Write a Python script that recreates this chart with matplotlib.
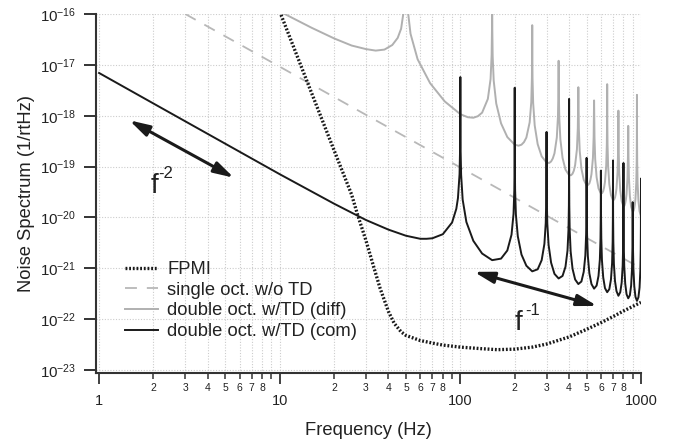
import numpy as np
import matplotlib
matplotlib.use('Agg')
import matplotlib.pyplot as plt
from matplotlib.ticker import FixedLocator, FixedFormatter, NullLocator

# values, log10 of the noise spectrum (1/rtHz)
fpmi_freq = [10, 15, 20, 25, 27, 30, 33, 36, 40, 43, 47, 50, 60, 70, 80, 100,
             130, 160, 200, 250, 300, 400, 500, 600, 700, 800, 900, 1000]
fpmi_log = [-15.95, -17.55, -18.68, -19.55, -19.95, -20.45, -20.95, -21.40, -21.85,
            -22.08, -22.25, -22.32, -22.42, -22.47, -22.51, -22.55, -22.58, -22.60,
            -22.59, -22.55, -22.49, -22.35, -22.20, -22.07, -21.95, -21.84, -21.75, -21.67]

single_freq = [3, 1000]
single_log = [-16.0, -21.0]

diff_freq = [10, 15, 20, 25, 30, 34, 38, 42, 45, 47, 49, 50,
             50.3, 51, 53, 58, 68, 82, 100, 110, 118, 125, 132, 142, 147, 149, 149.7, 150,
             150.3, 151, 153, 158, 168, 182, 200, 210, 218, 225, 232, 242, 247, 249, 249.7, 250,
             250.3, 251, 253, 258, 268, 282, 300, 310, 318, 325, 332, 342, 347, 349, 349.7, 350,
             350.3, 351, 353, 358, 368, 382, 400, 410, 418, 425, 432, 442, 447, 449, 450,
             451, 453, 458, 468, 482, 500, 510, 518, 525, 532, 542, 547, 549, 550,
             551, 553, 558, 568, 582, 600, 610, 618, 625, 632, 642, 647, 649, 649.7, 650,
             650.3, 651, 653, 658, 668, 682, 700, 710, 718, 725, 732, 742, 747, 749, 750,
             751, 753, 758, 768, 782, 800, 810, 818, 825, 832, 842, 847, 849, 850,
             851, 853, 858, 868, 882, 900, 910, 918, 925, 932, 942, 947, 949, 949.7, 950,
             950.3, 951, 953, 958, 968, 982, 1000]
diff_log = [-15.95, -16.27, -16.48, -16.62, -16.69, -16.72, -16.70, -16.61, -16.47, -16.29, -15.85, -15.3,
            -15.35, -15.88, -16.39, -16.89, -17.36, -17.72, -17.97, -18.03, -18.04, -18.01, -17.94, -17.67, -17.28, -16.81, -16.30, -15.3,
            -16.30, -16.83, -17.31, -17.76, -18.15, -18.42, -18.57, -18.59, -18.57, -18.52, -18.43, -18.13, -17.73, -17.26, -16.74, -16.22,
            -16.74, -17.27, -17.75, -18.19, -18.56, -18.80, -18.92, -18.93, -18.90, -18.84, -18.74, -18.43, -18.02, -17.55, -17.03, -16.92,
            -17.03, -17.56, -18.04, -18.47, -18.83, -19.06, -19.17, -19.17, -19.14, -19.08, -18.97, -18.66, -18.24, -17.77, -17.44,
            -17.78, -18.26, -18.69, -19.04, -19.26, -19.37, -19.36, -19.33, -19.26, -19.15, -18.83, -18.42, -17.95, -17.70,
            -17.95, -18.43, -18.86, -19.21, -19.43, -19.53, -19.52, -19.48, -19.41, -19.30, -18.98, -18.57, -18.09, -17.57, -17.38,
            -17.57, -18.09, -18.57, -19.00, -19.35, -19.56, -19.66, -19.65, -19.61, -19.54, -19.43, -19.11, -18.69, -18.22, -17.90,
            -18.22, -18.70, -19.13, -19.47, -19.68, -19.78, -19.77, -19.72, -19.65, -19.54, -19.22, -18.80, -18.33, -18.20,
            -18.33, -18.81, -19.23, -19.58, -19.79, -19.88, -19.87, -19.82, -19.75, -19.64, -19.31, -18.90, -18.42, -17.90, -17.59,
            -17.90, -18.42, -18.90, -19.33, -19.67, -19.88, -19.97]

com_freq = [1, 2, 5, 10, 20, 30, 40, 50, 60, 65, 70, 80, 90, 95, 97, 99, 99.7, 100,
            100.3, 101, 103, 108, 118, 132, 150, 168, 182, 192, 197, 199, 199.7, 200,
            200.3, 201, 203, 208, 218, 232, 250, 268, 282, 292, 297, 299, 299.7, 300,
            300.3, 301, 303, 308, 318, 332, 350, 368, 382, 392, 397, 399, 399.7, 400,
            400.3, 401, 403, 408, 418, 432, 450, 468, 482, 492, 497, 499, 499.7, 500,
            500.3, 501, 503, 508, 518, 532, 550, 568, 582, 592, 597, 599, 599.7, 600,
            600.3, 601, 603, 608, 618, 632, 650, 668, 682, 692, 697, 699, 699.7, 700,
            700.3, 701, 703, 708, 718, 732, 750, 768, 782, 792, 797, 799, 799.7, 800,
            800.3, 801, 803, 808, 818, 832, 850, 868, 882, 892, 897, 899, 900,
            901, 903, 908, 918, 932, 950, 968, 982, 992, 997, 999, 999.7, 1000]
com_log = [-17.16, -17.76, -18.55, -19.15, -19.73, -20.05, -20.24, -20.36, -20.42, -20.42, -20.41, -20.33, -20.10, -19.83, -19.62, -19.15, -18.63, -17.24,
           -18.64, -19.16, -19.65, -20.09, -20.46, -20.71, -20.84, -20.81, -20.65, -20.34, -19.93, -19.46, -18.94, -17.45,
           -18.94, -19.46, -19.94, -20.37, -20.73, -20.95, -21.06, -21.02, -20.84, -20.52, -20.11, -19.63, -19.11, -18.32,
           -19.11, -19.64, -20.12, -20.54, -20.89, -21.11, -21.20, -21.15, -20.97, -20.65, -20.23, -19.76, -19.24, -17.67,
           -19.24, -19.76, -20.24, -20.67, -21.01, -21.22, -21.31, -21.26, -21.07, -20.75, -20.33, -19.86, -19.33, -18.83,
           -19.33, -19.86, -20.34, -20.76, -21.10, -21.31, -21.40, -21.34, -21.15, -20.83, -20.41, -19.94, -19.41, -19.08,
           -19.41, -19.94, -20.41, -20.84, -21.18, -21.39, -21.47, -21.41, -21.22, -20.90, -20.48, -20.00, -19.48, -18.88,
           -19.48, -20.00, -20.48, -20.91, -21.25, -21.45, -21.54, -21.47, -21.28, -20.95, -20.54, -20.06, -19.54, -18.93,
           -19.54, -20.06, -20.54, -20.96, -21.30, -21.51, -21.59, -21.53, -21.34, -21.01, -20.59, -20.11, -19.70,
           -20.11, -20.59, -21.01, -21.35, -21.56, -21.64, -21.57, -21.38, -21.05, -20.63, -20.16, -19.63, -19.24]

labels = ['FPMI', 'single oct. w/o TD', 'double oct. w/TD (diff)', 'double oct. w/TD (com)']

x_major = [1, 10, 100, 1000]
x_major_labels = ['1', '10', '100', '1000']
minor_digits = [2, 3, 4, 5, 6, 7, 8, 9]
minor_labels = ['2', '3', '4', '5', '6', '7', '8', '']
y_exponents = [-23, -22, -21, -20, -19, -18, -17, -16]


plt.rcParams['font.family'] = ['Liberation Sans', 'DejaVu Sans']
plt.rcParams['mathtext.fontset'] = 'custom'
plt.rcParams['mathtext.rm'] = 'Liberation Sans'
plt.rcParams['mathtext.it'] = 'Liberation Sans:italic'
plt.rcParams['axes.unicode_minus'] = False

txt = '#222222'
fig = plt.figure(figsize=(6.84, 4.44), dpi=100)
ax = fig.add_axes([0.1404, 0.1592, 0.7967, 0.8093])

l2, = ax.plot(single_freq, 10 ** np.array(single_log), color='#b8b8b8', lw=1.3,
              dashes=(6.6, 5.5))
l3, = ax.plot(diff_freq, 10 ** np.array(diff_log), color='#b0b0b0', lw=1.4)
l4, = ax.plot(com_freq, 10 ** np.array(com_log), color='#1a1a1a', lw=1.4)
l1, = ax.plot(fpmi_freq, 10 ** np.array(fpmi_log), color='#1a1a1a', lw=2.4,
              dashes=(0.55, 0.55))

ax.set_xscale('log')
ax.set_yscale('log')
ax.set_xlim(0.962, 1000)
ax.set_ylim(10 ** -23.065, 1e-16)

ax.xaxis.set_major_locator(FixedLocator(x_major))
ax.xaxis.set_major_formatter(FixedFormatter(x_major_labels))
minor_pos = [d * m for m in x_major[:-1] for d in minor_digits]
ax.xaxis.set_minor_locator(FixedLocator(minor_pos))
ax.xaxis.set_minor_formatter(FixedFormatter(minor_labels * 3))
ax.yaxis.set_major_locator(FixedLocator([10.0 ** e for e in y_exponents]))
ax.yaxis.set_major_formatter(FixedFormatter(['$10^{%d}$' % e for e in y_exponents]))
ax.yaxis.set_minor_locator(NullLocator())

ax.tick_params(axis='y', which='major', direction='out', length=9, width=1.4,
               pad=5, labelsize=10.8, color='#333333', labelcolor=txt)
ax.tick_params(axis='x', which='major', direction='out', length=8, width=1.3,
               pad=7, labelsize=10.5, color='#333333', labelcolor=txt)
ax.tick_params(axis='x', which='minor', direction='out', length=4.3, width=1.1,
               pad=2.5, labelsize=7.5, color='#333333', labelcolor=txt)

grid_kw = dict(color='#cccccc', lw=0.8, linestyle=(0, (1, 1.5)))
ax.grid(True, which='major', axis='both', **grid_kw)
ax.grid(True, which='minor', axis='x', **grid_kw)

for s in ['top', 'right']:
    ax.spines[s].set_visible(False)
for s in ['left', 'bottom']:
    ax.spines[s].set_linewidth(1.5)
    ax.spines[s].set_color('#333333')

ax.set_xlabel('Frequency (Hz)', fontsize=13.2, color=txt, labelpad=10)
ax.set_ylabel('Noise Spectrum (1/rtHz)', fontsize=13.2, color=txt, labelpad=4)

# slope arrows
arrow_kw = dict(arrowstyle='<|-|>,head_length=0.6,head_width=0.17', color='#1a1a1a',
                lw=2.2, mutation_scale=20, shrinkA=0, shrinkB=0)
ax.annotate('', xy=(1.47, 10 ** -18.09), xytext=(5.58, 10 ** -19.22), arrowprops=arrow_kw)
ax.annotate('', xy=(119, 10 ** -21.07), xytext=(572, 10 ** -21.74), arrowprops=arrow_kw)

ax.text(1.92, 10 ** -19.51, 'f', fontsize=20, color=txt, va='baseline')
ax.text(2.12, 10 ** -19.22, '-2', fontsize=12, color=txt, va='baseline')
ax.text(200.5, 10 ** -22.21, 'f', fontsize=20, color=txt, va='baseline')
ax.text(230, 10 ** -21.92, '-1', fontsize=12, color=txt, va='baseline')

ax.legend([l1, l2, l3, l4], labels, loc='center left',
          bbox_to_anchor=(125 / 684, 1 - 300.5 / 444), bbox_transform=fig.transFigure,
          frameon=False, fontsize=13.2, handlelength=1.8, handletextpad=0.5,
          labelspacing=0.2, borderpad=0, borderaxespad=0, labelcolor=txt)

fig.savefig('out.png', dpi=100)
